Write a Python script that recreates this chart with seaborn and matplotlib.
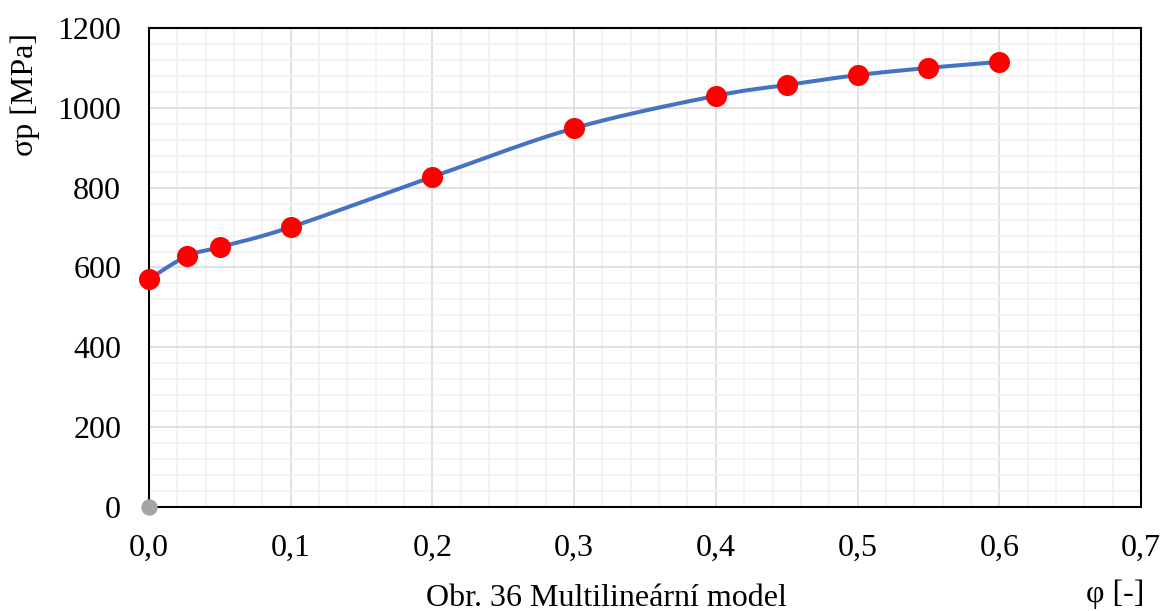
import numpy as np
import pandas as pd
import matplotlib
matplotlib.use("Agg")
import matplotlib.pyplot as plt
from matplotlib.ticker import MultipleLocator, FuncFormatter
import seaborn as sns

# data
phi = [0.0, 0.027, 0.05, 0.1, 0.2, 0.3, 0.4, 0.45, 0.5, 0.55, 0.6]
sigma = [571, 629, 651, 701, 827, 949, 1030, 1057, 1082, 1100, 1115]
origin_x = [0.0]
origin_y = [0]

df = pd.DataFrame({"phi": phi, "sigma": sigma})


def excel_smooth(x, y, n=30):
    # Excel style smoothing: cubic bezier with control points from neighbours
    x = np.asarray(x, float)
    y = np.asarray(y, float)
    px, py = [], []
    for i in range(len(x) - 1):
        x0, y0 = (x[i - 1], y[i - 1]) if i > 0 else (x[i], y[i])
        x3, y3 = (x[i + 2], y[i + 2]) if i + 2 < len(x) else (x[i + 1], y[i + 1])
        c1x = x[i] + (x[i + 1] - x0) / 6
        c1y = y[i] + (y[i + 1] - y0) / 6
        c2x = x[i + 1] - (x3 - x[i]) / 6
        c2y = y[i + 1] - (y3 - y[i]) / 6
        t = np.linspace(0, 1, n)
        bx = (1 - t) ** 3 * x[i] + 3 * (1 - t) ** 2 * t * c1x + 3 * (1 - t) * t ** 2 * c2x + t ** 3 * x[i + 1]
        by = (1 - t) ** 3 * y[i] + 3 * (1 - t) ** 2 * t * c1y + 3 * (1 - t) * t ** 2 * c2y + t ** 3 * y[i + 1]
        px.extend(bx)
        py.extend(by)
    return np.array(px), np.array(py)


sns.set_style("white")
plt.rcParams["font.family"] = ["Liberation Serif", "DejaVu Serif"]
plt.rcParams["text.color"] = "black"
plt.rcParams["xtick.color"] = "black"
plt.rcParams["ytick.color"] = "black"

fig = plt.figure(figsize=(11.62, 6.11), dpi=100)
ax = fig.add_axes([0.1282, 0.1702, 0.8537, 0.7840])

sx, sy = excel_smooth(phi, sigma)
sns.lineplot(x=sx, y=sy, sort=False, color="#4472C4", linewidth=2.9, ax=ax, zorder=3)
sns.scatterplot(data=df, x="phi", y="sigma", color="#FF0000", s=230, edgecolor="#FF0000",
                linewidth=0, ax=ax, zorder=4, clip_on=False)
sns.scatterplot(x=origin_x, y=origin_y, color="#A5A5A5", s=140, edgecolor="#A5A5A5",
                linewidth=0, ax=ax, zorder=6, clip_on=False)

ax.set_xlim(0, 0.7)
ax.set_ylim(0, 1200)
ax.xaxis.set_major_locator(MultipleLocator(0.1))
ax.xaxis.set_minor_locator(MultipleLocator(0.02))
ax.yaxis.set_major_locator(MultipleLocator(200))
ax.yaxis.set_minor_locator(MultipleLocator(40))
ax.xaxis.set_major_formatter(FuncFormatter(lambda v, p: f"{v:.1f}".replace(".", ",")))

ax.grid(which="major", color="#D9D9D9", linewidth=1.1)
ax.grid(which="minor", color="#F0F0F0", linewidth=1.1)
ax.set_axisbelow(True)
for s in ax.spines.values():
    s.set_color("black")
    s.set_linewidth(1.5)

ax.tick_params(which="both", length=0, labelsize=23, labelcolor="black")
ax.tick_params(axis="x", pad=19)
ax.tick_params(axis="y", pad=20)

ax.set_xlabel("")
ax.set_ylabel("")
fig.text(0.0215, 0.845, "σp [MPa]", rotation=90, ha="center", va="center", fontsize=23)
fig.text(0.522, 0.021, "Obr. 36 Multilineární model", ha="center", va="center", fontsize=23)
fig.text(0.96, 0.028, "φ [-]", ha="center", va="center", fontsize=23)

fig.savefig("out.png", dpi=100)
